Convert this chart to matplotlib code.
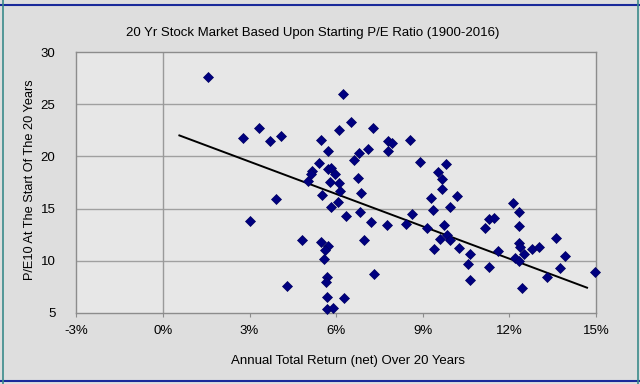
import matplotlib
matplotlib.use("Agg")
import matplotlib.pyplot as plt
from matplotlib.lines import Line2D
import numpy as np

plt.rcParams['font.family'] = ['Liberation Sans', 'DejaVu Sans']

title = "20 Yr Stock Market Based Upon Starting P/E Ratio (1900-2016)"
x_label = "Annual Total Return (net) Over 20 Years"
y_label = "P/E10 At The Start Of The 20 Years"

# Annual total return (%) over 20 years
returns = [1.57, 2.78, 3.34, 3.72, 4.10, 3.93, 3.03, 4.83, 4.31, 5.04,
           5.18, 5.14, 5.42, 5.49, 5.73, 5.73, 5.83, 5.97, 5.80, 6.11,
           6.15, 5.52, 6.08, 5.83, 6.35, 6.84, 6.87, 6.77, 6.63, 6.80,
           7.12, 6.11, 6.53, 6.25, 7.29, 7.81, 7.95, 7.81, 8.57, 8.92,
           9.82, 9.54, 9.68, 9.68, 9.30, 10.17, 9.37, 9.96, 8.61, 7.22,
           7.77, 8.43, 9.16, 9.75, 9.85, 9.96, 9.61, 9.40, 6.98, 5.49,
           5.73, 5.63, 5.59, 5.69, 5.66, 7.32, 5.69, 6.28, 5.69, 5.90,
           10.24, 10.65, 10.55, 10.65, 11.28, 11.17, 11.28, 11.45, 11.62, 12.11,
           12.32, 12.35, 12.35, 12.38, 12.49, 12.21, 12.32, 12.77, 13.04, 12.45,
           13.63, 13.91, 13.77, 13.32, 14.98]
# Starting P/E10
pe10 = [27.63, 21.76, 22.72, 21.47, 21.95, 15.89, 13.78, 11.95, 7.53, 17.62,
        18.59, 18.30, 19.36, 21.57, 20.51, 18.78, 18.87, 18.30, 17.53, 17.43,
        16.66, 16.28, 15.61, 15.12, 14.26, 14.64, 16.47, 17.91, 19.64, 20.32,
        20.70, 22.53, 23.30, 25.99, 22.72, 21.47, 21.28, 20.51, 21.57, 19.45,
        19.26, 18.49, 17.82, 16.86, 15.99, 16.18, 14.84, 15.12, 14.45, 13.68,
        13.39, 13.49, 13.11, 13.39, 12.43, 11.95, 12.05, 11.09, 11.95, 11.76,
        11.37, 10.99, 10.12, 8.39, 7.91, 8.68, 6.47, 6.37, 5.32, 5.41,
        11.18, 10.61, 9.64, 8.11, 9.36, 13.11, 13.97, 14.07, 10.89, 15.51,
        14.64, 13.30, 11.66, 11.28, 10.61, 10.22, 9.93, 11.09, 11.28, 7.34,
        12.14, 10.41, 9.26, 8.39, 8.87]

# Trend line end points
trend_x = [0.57, 14.69]
trend_y = [22.02, 7.40]

x_ticks = [-3, 0, 3, 6, 9, 12, 15]
x_tick_labels = ["-3%", "0%", "3%", "6%", "9%", "12%", "15%"]
y_ticks = [5, 10, 15, 20, 25, 30]

fig = plt.figure(figsize=(6.4, 3.84), dpi=100, facecolor='#dedede')
ax = fig.add_axes([76.3/640, 1 - 312.7/384, (596 - 76.3)/640, (312.7 - 52.3)/384])
ax.set_facecolor('#e7e7e7')

ax.set_xlim(-3, 15)
ax.set_ylim(5, 30)

for yv in y_ticks[1:-1]:
    ax.axhline(yv, color='#a0a0a0', lw=1.0, zorder=1)
ax.axvline(0, color='#9a9a9a', lw=1.0, zorder=1)

ax.plot(trend_x, trend_y, color='black', lw=1.4, zorder=2)
ax.plot(returns, pe10, linestyle='none', marker='D', markersize=5.0,
        markerfacecolor='#000080', markeredgecolor='#000060', markeredgewidth=0.5,
        zorder=3, clip_on=False)

for side in ['top', 'right', 'left', 'bottom']:
    ax.spines[side].set_color('#8c8c8c')
    ax.spines[side].set_linewidth(1.0)

ax.set_xticks(x_ticks)
ax.set_xticklabels(x_tick_labels)
ax.set_yticks(y_ticks)
ax.tick_params(axis='x', direction='out', length=3, color='#8c8c8c', labelsize=9.5, pad=6)
ax.tick_params(axis='y', length=0, labelsize=9.5, pad=15)

ax.set_xlabel(x_label, fontsize=9.5)
ax.xaxis.set_label_coords((348 - 76.3) / 519.7, -(355 - 312.7) / 260.4)
ax.set_ylabel(y_label, fontsize=9.2)
ax.yaxis.set_label_coords(-0.095 + (27 - 18) / 520, 0.51)

fig.text(0.488, 1 - 33/384, title, ha='center', va='center', fontsize=9.5)

# outer frame lines
fig.add_artist(Line2D([0, 1], [1 - 4.5/384, 1 - 4.5/384], color='#1a2a9a', lw=1.5))
fig.add_artist(Line2D([0, 1], [1 - 381/384, 1 - 381/384], color='#1a2a9a', lw=1.5))
fig.add_artist(Line2D([2.5/640, 2.5/640], [0, 1], color='#3a8a8a', lw=1.2))
fig.add_artist(Line2D([637.5/640, 637.5/640], [0, 1], color='#3a8a8a', lw=1.2))

fig.savefig('out.png', dpi=100, facecolor=fig.get_facecolor())
